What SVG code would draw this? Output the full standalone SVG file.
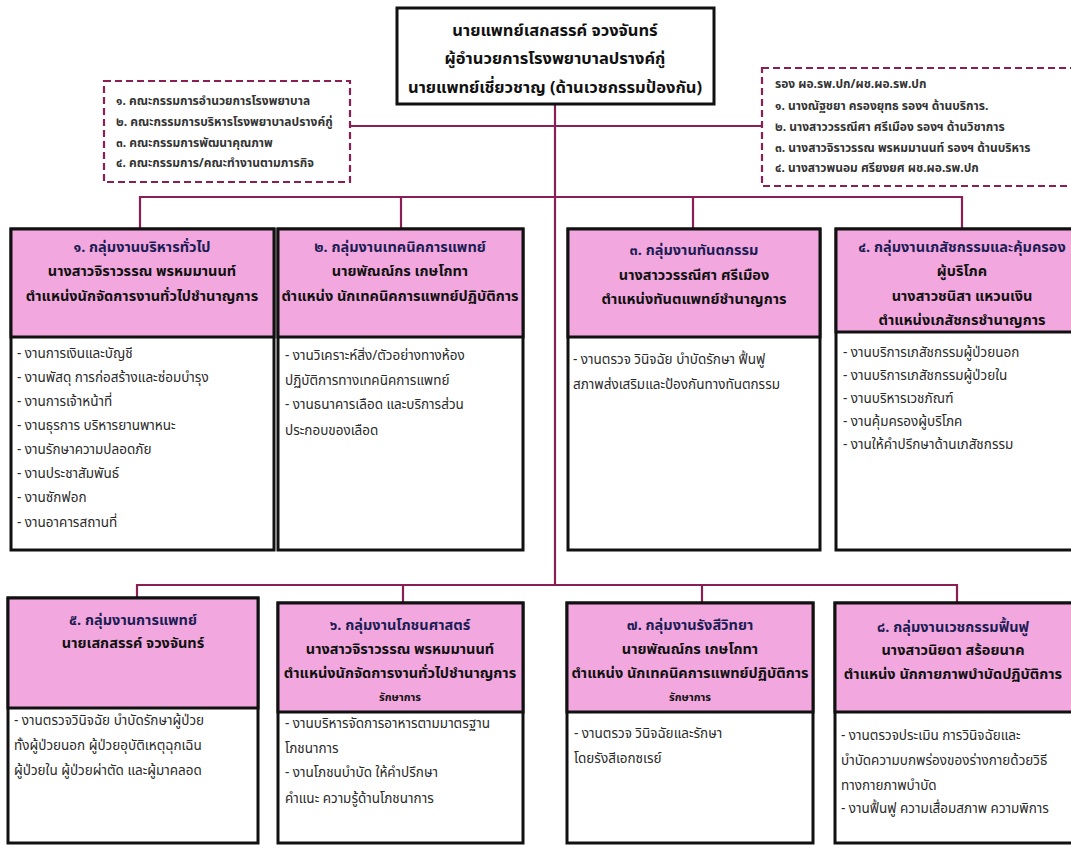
<svg xmlns="http://www.w3.org/2000/svg" width="1071" height="846" viewBox="0 0 1071 846">
<style>
.th{font-family:"Noto Sans Thai","Noto Sans","DejaVu Sans",sans-serif}
.box{fill:#ffffff;stroke:#111;stroke-width:3}
.hdr{fill:#f2a8de;stroke:#111;stroke-width:3}
.dash{fill:#ffffff;stroke:#8a1f55;stroke-width:2.2;stroke-dasharray:7 4}
.conn{fill:none;stroke:#8a1f55;stroke-width:2.2}
.h1{font-size:14.5px;font-weight:bold;fill:#1c1c55;text-anchor:middle}
.h2{font-size:14.5px;font-weight:bold;fill:#111;text-anchor:middle}
.hs{font-size:11px;font-weight:bold;fill:#111;text-anchor:middle}
.b{font-size:13.5px;fill:#2a2a2a}
.top{font-size:16.5px;font-weight:bold;fill:#111;text-anchor:middle}
.d{font-size:12px;font-weight:bold;fill:#333}
</style>
<rect width="1071" height="846" fill="#ffffff"/>
<g id="connectors">
<path class="conn" d="M555 104 V585"/>
<path class="conn" d="M350 126 H762"/>
<path class="conn" d="M140 229 V197 H962 V229"/>
<path class="conn" d="M401 197 V229"/>
<path class="conn" d="M693 197 V229"/>
<path class="conn" d="M137 598 V585 H957 V603"/>
<path class="conn" d="M403 585 V603"/>
<path class="conn" d="M702 585 V603"/>
</g>
<g id="director" class="th">
<rect x="397" y="8" width="317" height="96" fill="#fff" stroke="#111" stroke-width="3"/>
<text class="top" x="555" y="36">นายแพทย์เสกสรรค์ จวงจันทร์</text>
<text class="top" x="555" y="64">ผู้อำนวยการโรงพยาบาลปรางค์กู่</text>
<text class="top" x="555" y="93">นายแพทย์เชี่ยวชาญ (ด้านเวชกรรมป้องกัน)</text>
</g>
<g id="committees" class="th">
<rect class="dash" x="104" y="81" width="246" height="101"/>
<text class="d" x="116" y="105">๑. คณะกรรมการอำนวยการโรงพยาบาล</text>
<text class="d" x="116" y="126">๒. คณะกรรมการบริหารโรงพยาบาลปรางค์กู่</text>
<text class="d" x="116" y="147">๓. คณะกรรมการพัฒนาคุณภาพ</text>
<text class="d" x="116" y="167">๔. คณะกรรมการ/คณะทำงานตามภารกิจ</text>
</g>
<g id="deputies" class="th">
<rect class="dash" x="762" y="68" width="330" height="118"/>
<text class="d" x="775" y="88">รอง ผอ.รพ.ปก/ผช.ผอ.รพ.ปก</text>
<text class="d" x="775" y="110">๑. นางณัฐชยา  ครองยุทธ  รองฯ ด้านบริการ.</text>
<text class="d" x="775" y="131">๒. นางสาววรรณีศา  ศรีเมือง รองฯ ด้านวิชาการ</text>
<text class="d" x="775" y="152">๓. นางสาวจิราวรรณ พรหมมานนท์ รองฯ ด้านบริหาร</text>
<text class="d" x="775" y="172">๔. นางสาวพนอม ศรียงยศ ผช.ผอ.รพ.ปก</text>
</g>
<g id="group1" class="th">
<rect class="box" x="11" y="229" width="263" height="321"/>
<rect class="hdr" x="11" y="229" width="263" height="108"/>
<text class="h1" x="142" y="252">๑. กลุ่มงานบริหารทั่วไป</text>
<text class="h2" x="142" y="276">นางสาวจิราวรรณ พรหมมานนท์</text>
<text class="h2" x="142" y="301">ตำแหน่งนักจัดการงานทั่วไปชำนาญการ</text>
<text class="b" x="17" y="358">- งานการเงินและบัญชี</text>
<text class="b" x="17" y="382">- งานพัสดุ การก่อสร้างและซ่อมบำรุง</text>
<text class="b" x="17" y="406">- งานการเจ้าหน้าที่</text>
<text class="b" x="17" y="430">- งานธุรการ บริหารยานพาหนะ</text>
<text class="b" x="17" y="454">- งานรักษาความปลอดภัย</text>
<text class="b" x="17" y="478">- งานประชาสัมพันธ์</text>
<text class="b" x="17" y="502">- งานซักฟอก</text>
<text class="b" x="17" y="527">- งานอาคารสถานที่</text>
</g>
<g id="group2" class="th">
<rect class="box" x="278" y="229" width="245" height="321"/>
<rect class="hdr" x="278" y="229" width="245" height="108"/>
<text class="h1" x="400" y="252">๒. กลุ่มงานเทคนิคการแพทย์</text>
<text class="h2" x="400" y="276">นายพัณณ์กร เกษโกทา</text>
<text class="h2" x="400" y="301">ตำแหน่ง นักเทคนิคการแพทย์ปฏิบัติการ</text>
<text class="b" x="285" y="360">- งานวิเคราะห์สิ่ง/ตัวอย่างทางห้อง</text>
<text class="b" x="285" y="385">ปฏิบัติการทางเทคนิคการแพทย์</text>
<text class="b" x="285" y="409">- งานธนาคารเลือด และบริการส่วน</text>
<text class="b" x="285" y="435">ประกอบของเลือด</text>
</g>
<g id="group3" class="th">
<rect class="box" x="568" y="229" width="252" height="321"/>
<rect class="hdr" x="568" y="229" width="252" height="108"/>
<text class="h1" x="694" y="255">๓. กลุ่มงานทันตกรรม</text>
<text class="h2" x="694" y="280">นางสาววรรณีศา   ศรีเมือง</text>
<text class="h2" x="694" y="304">ตำแหน่งทันตแพทย์ชำนาญการ</text>
<text class="b" x="573" y="364">- งานตรวจ วินิจฉัย บำบัดรักษา ฟื้นฟู</text>
<text class="b" x="573" y="389">สภาพส่งเสริมและป้องกันทางทันตกรรม</text>
</g>
<g id="group4" class="th">
<rect class="box" x="836" y="229" width="252" height="321"/>
<rect class="hdr" x="836" y="229" width="252" height="103"/>
<text class="h1" x="962" y="252">๔. กลุ่มงานเภสัชกรรมและคุ้มครอง</text>
<text class="h2" x="962" y="276">ผู้บริโภค</text>
<text class="h2" x="962" y="301">นางสาวชนิสา  แหวนเงิน</text>
<text class="h2" x="962" y="325">ตำแหน่งเภสัชกรชำนาญการ</text>
<text class="b" x="843" y="357">- งานบริการเภสัชกรรมผู้ป่วยนอก</text>
<text class="b" x="843" y="380">- งานบริการเภสัชกรรมผู้ป่วยใน</text>
<text class="b" x="843" y="403">- งานบริหารเวชภัณฑ์</text>
<text class="b" x="843" y="426">- งานคุ้มครองผู้บริโภค</text>
<text class="b" x="843" y="449">- งานให้คำปรึกษาด้านเภสัชกรรม</text>
</g>
<g id="group5" class="th">
<rect class="box" x="8" y="598" width="250" height="245"/>
<rect class="hdr" x="8" y="598" width="250" height="110"/>
<text class="h1" x="133" y="625">๕. กลุ่มงานการแพทย์</text>
<text class="h2" x="133" y="648">นายเสกสรรค์  จวงจันทร์</text>
<text class="b" x="14" y="725">- งานตรวจวินิจฉัย บำบัดรักษาผู้ป่วย</text>
<text class="b" x="14" y="750">ทั้งผู้ป่วยนอก ผู้ป่วยอุบัติเหตุฉุกเฉิน</text>
<text class="b" x="14" y="775">ผู้ป่วยใน ผู้ป่วยผ่าตัด และผู้มาคลอด</text>
</g>
<g id="group6" class="th">
<rect class="box" x="278" y="603" width="245" height="240"/>
<rect class="hdr" x="278" y="603" width="245" height="109"/>
<text class="h1" x="400" y="630">๖. กลุ่มงานโภชนศาสตร์</text>
<text class="h2" x="400" y="654">นางสาวจิราวรรณ พรหมมานนท์</text>
<text class="h2" x="400" y="678">ตำแหน่งนักจัดการงานทั่วไปชำนาญการ</text>
<text class="hs" x="400" y="701">รักษาการ</text>
<text class="b" x="285" y="728">- งานบริหารจัดการอาหารตามมาตรฐาน</text>
<text class="b" x="285" y="753">โภชนาการ</text>
<text class="b" x="285" y="777">- งานโภชนบำบัด ให้คำปรึกษา</text>
<text class="b" x="285" y="803">คำแนะ ความรู้ด้านโภชนาการ</text>
</g>
<g id="group7" class="th">
<rect class="box" x="567" y="603" width="246" height="240"/>
<rect class="hdr" x="567" y="603" width="246" height="109"/>
<text class="h1" x="690" y="630">๗. กลุ่มงานรังสีวิทยา</text>
<text class="h2" x="690" y="654">นายพัณณ์กร  เกษโกทา</text>
<text class="h2" x="690" y="678">ตำแหน่ง นักเทคนิคการแพทย์ปฏิบัติการ</text>
<text class="hs" x="690" y="701">รักษาการ</text>
<text class="b" x="574" y="738">- งานตรวจ วินิจฉัยและรักษา</text>
<text class="b" x="574" y="763">โดยรังสีเอกซเรย์</text>
</g>
<g id="group8" class="th">
<rect class="box" x="835" y="603" width="252" height="240"/>
<rect class="hdr" x="835" y="603" width="252" height="109"/>
<text class="h1" x="953" y="632">๘. กลุ่มงานเวชกรรมฟื้นฟู</text>
<text class="h2" x="953" y="655">นางสาวนิยดา  สร้อยนาค</text>
<text class="h2" x="953" y="679">ตำแหน่ง นักกายภาพบำบัดปฏิบัติการ</text>
<text class="b" x="841" y="740">- งานตรวจประเมิน การวินิจฉัยและ</text>
<text class="b" x="841" y="765">บำบัดความบกพร่องของร่างกายด้วยวิธี</text>
<text class="b" x="841" y="790">ทางกายภาพบำบัด</text>
<text class="b" x="841" y="813">- งานฟื้นฟู ความเสื่อมสภาพ ความพิการ</text>
</g>
</svg>
